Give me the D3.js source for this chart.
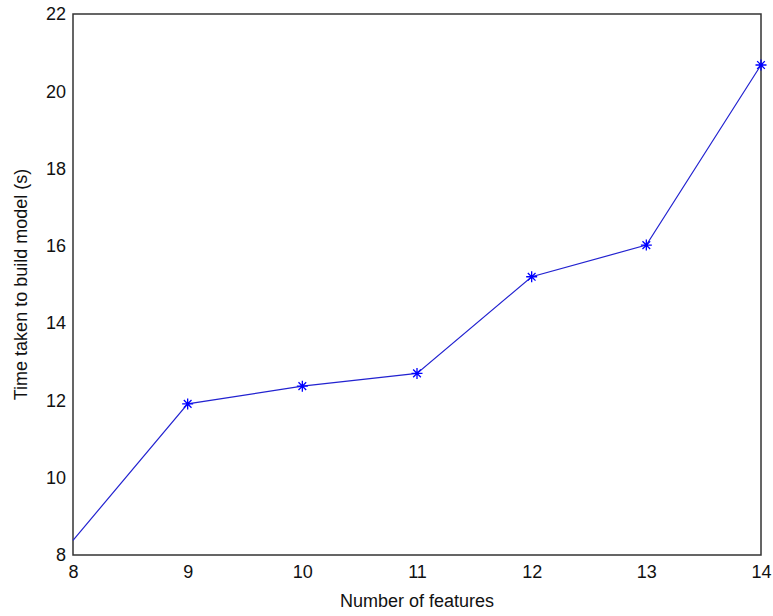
<!DOCTYPE html>
<html>
<head>
<meta charset="utf-8">
<script src="https://cdn.jsdelivr.net/npm/d3@7"></script>
<style>
  html, body { margin: 0; padding: 0; background: #fff; }
  svg { display: block; }
  text { font-family: "Liberation Sans", Arial, sans-serif; fill: #111; }
</style>
</head>
<body>
<svg id="chart" width="773" height="616"></svg>
<script>
const features = [8, 9, 10, 11, 12, 13, 14];
const times = [8.38, 11.91, 12.37, 12.70, 15.20, 16.02, 20.68];
const xTicks = [8, 9, 10, 11, 12, 13, 14];
const yTicks = [8, 10, 12, 14, 16, 18, 20, 22];
const xLabel = "Number of features";
const yLabel = "Time taken to build model (s)";

(function () {
const svg = d3.select("#chart");
const mLeft = 73, mRight = 761, mTop = 14, mBottom = 555;

const x = d3.scaleLinear().domain([8, 14]).range([mLeft, mRight]);
const y = d3.scaleLinear().domain([8, 22]).range([mBottom, mTop]);

const fontSize = 18;
const axisColor = "#333";

const xAxis = svg.append("g")
  .attr("transform", `translate(0,${mBottom})`)
  .call(d3.axisBottom(x).tickValues(xTicks).tickFormat(d3.format("d")).tickSize(0).tickPadding(8));
const yAxis = svg.append("g")
  .attr("transform", `translate(${mLeft},0)`)
  .call(d3.axisLeft(y).tickValues(yTicks).tickFormat(d3.format("d")).tickSize(0).tickPadding(7));

svg.selectAll(".domain").remove();
svg.selectAll(".tick line").remove();
svg.selectAll(".tick text").attr("font-size", fontSize).attr("font-family", "Liberation Sans, Arial, sans-serif").attr("fill", "#111");
xAxis.selectAll(".tick text").attr("dy", "0.85em");

svg.append("rect")
  .attr("x", mLeft).attr("y", mTop)
  .attr("width", mRight - mLeft).attr("height", mBottom - mTop)
  .attr("fill", "none").attr("stroke", axisColor).attr("stroke-width", 1.5);

const data = features.map((f, i) => ({ f, t: times[i] }));
svg.append("path")
  .datum(data)
  .attr("fill", "none")
  .attr("stroke", "#2222d0")
  .attr("stroke-width", 1.2)
  .attr("d", d3.line().x(d => x(d.f)).y(d => y(d.t)));

const s = 5.5;
const star = `M${-s},0L${s},0M0,${-s}L0,${s}M${-s*0.7},${-s*0.7}L${s*0.7},${s*0.7}M${-s*0.7},${s*0.7}L${s*0.7},${-s*0.7}`;
svg.append("g").selectAll("path")
  .data(data.filter(d => d.f > x.domain()[0]))
  .join("path")
  .attr("transform", d => `translate(${x(d.f)},${y(d.t)})`)
  .attr("d", star)
  .attr("stroke", "#0000ff")
  .attr("stroke-width", 1.3)
  .attr("fill", "none");

svg.append("text")
  .attr("x", (mLeft + mRight) / 2)
  .attr("y", 607)
  .attr("text-anchor", "middle")
  .attr("font-size", fontSize)
  .text(xLabel);

svg.append("text")
  .attr("transform", `translate(27,${(mTop + mBottom) / 2}) rotate(-90)`)
  .attr("text-anchor", "middle")
  .attr("font-size", fontSize)
  .text(yLabel);
})();
</script>
</body>
</html>
